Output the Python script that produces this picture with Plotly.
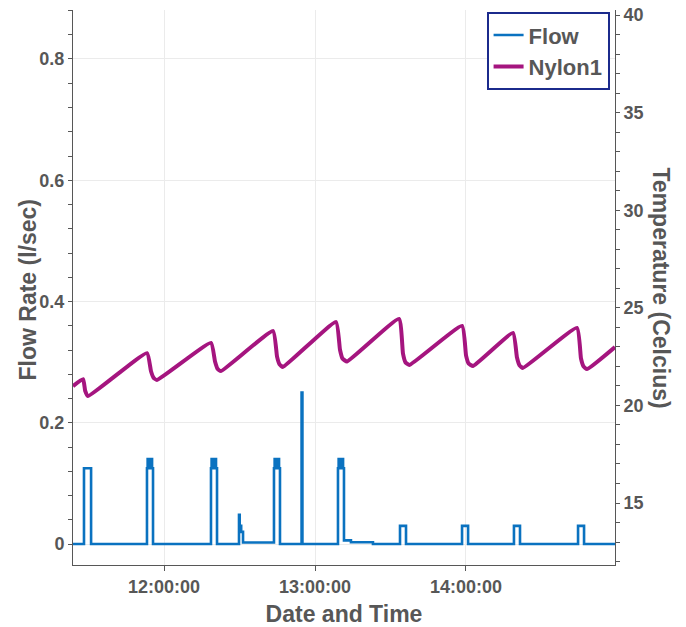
import plotly.graph_objects as go

DAY = "2019-07-18 "

# Flow meter log (l/sec); values hold until the next timestamp
flow_times = [
    "11:23:50", "11:28:12", "11:31:01",
    "11:53:14", "11:53:30", "11:53:45", "11:54:00", "11:54:15", "11:54:30", "11:54:45", "11:55:00", "11:55:15", "11:55:38",
    "12:18:40", "12:18:55", "12:19:10", "12:19:25", "12:19:40", "12:19:55", "12:20:10", "12:20:25", "12:20:40", "12:21:04",
    "12:29:48", "12:30:05", "12:30:40", "12:31:24",
    "12:43:42", "12:43:58", "12:44:13", "12:44:28", "12:44:43", "12:44:58", "12:45:13", "12:45:28", "12:45:43", "12:46:05",
    "12:54:40", "12:55:00",
    "13:09:08", "13:09:24", "13:09:39", "13:09:54", "13:10:09", "13:10:24", "13:10:39", "13:10:54", "13:11:09", "13:11:31",
    "13:14:17", "13:23:02",
    "13:33:47", "13:36:10",
    "13:58:26", "14:00:50",
    "14:19:04", "14:21:28",
    "14:44:32", "14:46:55",
    "14:59:13",
]
flow_values = [
    0.0, 0.125, 0.0,
    0.125, 0.14, 0.125, 0.14, 0.125, 0.14, 0.125, 0.14, 0.125, 0.0,
    0.125, 0.14, 0.125, 0.14, 0.125, 0.14, 0.125, 0.14, 0.125, 0.0,
    0.048, 0.03, 0.02, 0.0025,
    0.125, 0.14, 0.125, 0.14, 0.125, 0.14, 0.125, 0.14, 0.125, 0.0,
    0.25, 0.0,
    0.125, 0.14, 0.125, 0.14, 0.125, 0.14, 0.125, 0.14, 0.125, 0.006,
    0.003, 0.0,
    0.03, 0.0,
    0.03, 0.0,
    0.03, 0.0,
    0.03, 0.0,
    0.0,
]

# Nylon1 temperature probe (Celcius): peak, fast fall, rounded trough, slow recovery
nylon_times = [
    "11:23:49", "11:27:50", "11:28:40", "11:29:49",
    "11:53:14", "11:54:50", "11:55:50", "11:57:10",
    "12:18:40", "12:20:16", "12:21:16", "12:22:36",
    "12:43:19", "12:44:55", "12:45:55", "12:47:15",
    "13:08:20", "13:09:56", "13:10:56", "13:12:42",
    "13:33:22", "13:34:58", "13:35:58", "13:37:30",
    "13:58:26", "14:00:02", "14:01:02", "14:02:46",
    "14:18:40", "14:20:16", "14:21:16", "14:22:38",
    "14:44:06", "14:45:42", "14:46:42", "14:48:05",
    "14:59:13",
]
nylon_values = [
    20.99, 21.35, 20.75, 20.48,
    22.68, 21.75, 21.42, 21.30,
    23.20, 22.25, 21.88, 21.76,
    23.81, 22.50, 22.10, 21.97,
    24.27, 22.85, 22.40, 22.25,
    24.43, 22.65, 22.20, 22.07,
    24.07, 22.55, 22.15, 22.02,
    23.71, 22.45, 22.05, 21.92,
    23.97, 22.40, 22.00, 21.86,
    22.99,
]

x_ticks = ["12:00:00", "13:00:00", "14:00:00"]
x_range = ["11:23:50", "14:59:13"]

GREY = "#575757"
FONT = "Liberation Sans"
TICK_FONT = dict(size=18, color=GREY, family=FONT, weight="bold")
TITLE_FONT = dict(size=23, color=GREY, family=FONT, weight="bold")

fig = go.Figure()
fig.add_trace(go.Scatter(
    x=[DAY + t for t in flow_times], y=flow_values, name="Flow",
    mode="lines", line=dict(color="#0A72C0", width=2.6, shape="hv"),
))
fig.add_trace(go.Scatter(
    x=[DAY + t for t in nylon_times], y=nylon_values, name="Nylon1",
    mode="lines", line=dict(color="#A5157F", width=4, shape="spline", smoothing=0.4), yaxis="y2",
))

fig.update_layout(
    width=686, height=627,
    margin=dict(l=73, r=71, t=10, b=62, autoexpand=False),
    paper_bgcolor="white", plot_bgcolor="white",
    font=dict(family=FONT, color=GREY),
    showlegend=True,
    legend=dict(
        x=0.99, y=0.996, xanchor="right", yanchor="top",
        bgcolor="white", bordercolor="#1B2A8C", borderwidth=2,
        font=dict(size=22, color=GREY, family=FONT, weight="bold"),
        itemwidth=30, tracegroupgap=0,
    ),
    xaxis=dict(
        type="date", automargin=False,
        range=[DAY + x_range[0], DAY + x_range[1]],
        tickvals=[DAY + t for t in x_ticks], ticktext=x_ticks,
        ticks="outside", ticklen=5, tickcolor=GREY,
        showline=True, linecolor=GREY, linewidth=1, mirror=False,
        showgrid=True, gridcolor="#EBEBEB", zeroline=False,
        tickfont=TICK_FONT,
        title=dict(text="Date and Time", standoff=10, font=TITLE_FONT),
    ),
    yaxis=dict(
        automargin=False,
        range=[-0.0346, 0.8808],
        tickvals=[0, 0.2, 0.4, 0.6, 0.8], ticktext=["0", "0.2", "0.4", "0.6", "0.8"],
        ticks="outside", ticklen=4, tickcolor=GREY,
        minor=dict(dtick=0.04, tick0=0, ticks="outside", ticklen=4, tickcolor=GREY, showgrid=False),
        showline=True, linecolor=GREY, linewidth=1,
        showgrid=True, gridcolor="#EBEBEB", zeroline=False,
        tickfont=TICK_FONT,
    ),
    yaxis2=dict(
        overlaying="y", side="right", automargin=False,
        range=[11.824, 40.256],
        tickvals=[15, 20, 25, 30, 35, 40],
        ticks="outside", ticklen=4, tickcolor=GREY,
        minor=dict(dtick=1, tick0=0, ticks="outside", ticklen=4, tickcolor=GREY, showgrid=False),
        showline=True, linecolor=GREY, linewidth=1,
        showgrid=False, zeroline=False,
        tickfont=TICK_FONT,
    ),
    annotations=[
        dict(
            text="Flow Rate (l/sec)", textangle=-90,
            xref="paper", yref="paper", x=0, y=0.5, xshift=-46, yshift=-3,
            xanchor="center", yanchor="middle", showarrow=False,
            font=TITLE_FONT,
        ),
        dict(
            text="Temperature (Celcius)", textangle=90,
            xref="paper", yref="paper", x=1, y=0.5, xshift=46,
            xanchor="center", yanchor="middle", showarrow=False,
            font=TITLE_FONT,
        ),
    ],
)

fig.write_html("out.html")
